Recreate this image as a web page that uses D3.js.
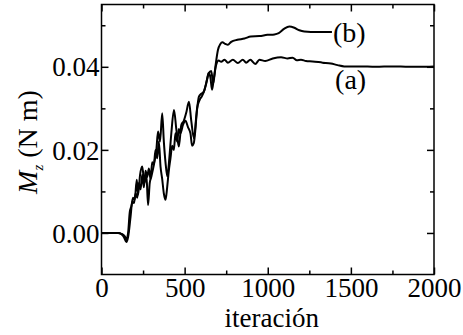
<!DOCTYPE html>
<html><head><meta charset="utf-8">
<script src="https://cdn.jsdelivr.net/npm/d3@7"></script>
<style>body{margin:0;background:#fff}svg{display:block}</style>
</head><body>
<script>
const xMajor = [0, 500, 1000, 1500, 2000];
const xMinor = [250, 750, 1250, 1750];
const yMajor = [0.00, 0.02, 0.04];
const yMinor = [0.01, 0.03, 0.05];
const xLabel = "iteración";
const seriesALabel = "(a)";
const seriesBLabel = "(b)";
const seriesA = [[0,0],[100,0],[120,-0.0003],[135,-0.001],[150,-0.0022],[160,-0.001],[175,0.004],[185,0.0075],[195,0.0072],[205,0.0095],[215,0.0085],[225,0.012],[235,0.0105],[245,0.014],[255,0.011],[265,0.015],[275,0.0135],[285,0.0155],[295,0.013],[305,0.017],[315,0.0165],[325,0.02],[335,0.018],[345,0.022],[355,0.016],[365,0.013],[375,0.0095],[385,0.008],[395,0.011],[405,0.015],[415,0.018],[425,0.021],[435,0.02],[445,0.024],[455,0.022],[465,0.025],[475,0.024],[490,0.026],[505,0.027],[520,0.0255],[535,0.024],[545,0.021],[555,0.0216],[565,0.025],[575,0.03],[590,0.032],[605,0.033],[620,0.0345],[635,0.037],[645,0.0385],[655,0.0375],[665,0.0345],[675,0.037],[690,0.0405],[705,0.0415],[720,0.0412],[740,0.0417],[760,0.041],[790,0.0417],[820,0.0409],[850,0.0417],[870,0.041],[895,0.0417],[925,0.0407],[950,0.0417],[985,0.0414],[1030,0.042],[1080,0.0423],[1120,0.042],[1150,0.0422],[1175,0.0416],[1200,0.0417],[1230,0.0414],[1270,0.0413],[1330,0.041],[1380,0.0408],[1420,0.0404],[1460,0.0401],[1550,0.0401],[1650,0.04],[1750,0.0401],[1850,0.04],[1950,0.04],[2000,0.0401]];
const seriesB = [[0,0],[100,0],[120,-0.0002],[140,-0.0008],[150,-0.0015],[160,0],[170,0.005],[180,0.0065],[190,0.0085],[200,0.008],[212,0.0128],[220,0.0092],[232,0.014],[245,0.016],[258,0.012],[270,0.014],[280,0.0067],[290,0.012],[300,0.0136],[315,0.0164],[330,0.02],[340,0.0244],[352,0.022],[365,0.0288],[375,0.022],[385,0.017],[396,0.0136],[408,0.018],[420,0.024],[436,0.0296],[450,0.025],[465,0.0208],[480,0.026],[495,0.027],[510,0.029],[526,0.0316],[540,0.027],[556,0.0228],[570,0.028],[586,0.0328],[600,0.0335],[615,0.034],[630,0.036],[645,0.0385],[660,0.039],[672,0.036],[685,0.04],[700,0.044],[715,0.0455],[727,0.0459],[745,0.0455],[760,0.0453],[780,0.046],[817,0.0465],[860,0.0468],[898,0.0473],[950,0.0474],[998,0.0477],[1040,0.0478],[1066,0.0481],[1100,0.0492],[1130,0.0497],[1160,0.0494],[1190,0.0488],[1220,0.0485],[1260,0.0484],[1320,0.0484],[1386,0.0484]];

const W = 463, H = 335;
const L = 101.5, R = 434, T = 4.5, B = 274.5;
const FONT = "'Liberation Serif', 'Times New Roman', Times, serif";
const FS = 27, FS2 = 28;
const svg = d3.select("body").append("svg").attr("width", W).attr("height", H)
  .style("font-family", FONT);
const x = d3.scaleLinear().domain([0, 2000]).range([L, R]);
const y = d3.scaleLinear().domain([-0.01, 0.055]).range([B, T]);

function axis(gen, tr, vals, size, labels) {
  const g = svg.append("g").attr("transform", tr)
    .call(gen.tickValues(vals).tickSizeInner(size).tickSizeOuter(0).tickFormat(labels ? labels : ""));
  g.attr("font-family", null).attr("font-size", null);
  g.select(".domain").remove();
  g.selectAll(".tick line").attr("stroke", "#000").attr("stroke-width", 1.5);
  g.selectAll(".tick text").style("font-family", FONT).style("font-size", FS + "px").attr("fill", "#000");
  return g;
}
// bottom
const gb = axis(d3.axisTop(x), `translate(0,${B})`, xMajor, 7, d3.format("d"));
gb.selectAll(".tick text").attr("y", 22).attr("dy", 0);
axis(d3.axisTop(x), `translate(0,${B})`, xMinor, 4, null);
// top
axis(d3.axisBottom(x), `translate(0,${T})`, xMajor, 7, null);
axis(d3.axisBottom(x), `translate(0,${T})`, xMinor, 4, null);
// left
const gl = axis(d3.axisRight(y), `translate(${L},0)`, yMajor, 7, d3.format(".2f"));
gl.selectAll(".tick text").attr("x", -2).attr("text-anchor", "end").attr("dy", "0.34em");
axis(d3.axisRight(y), `translate(${L},0)`, yMinor, 4, null);
// right
axis(d3.axisLeft(y), `translate(${R},0)`, yMajor, 7, null);
axis(d3.axisLeft(y), `translate(${R},0)`, yMinor, 4, null);

svg.append("rect").attr("x", L).attr("y", T).attr("width", R - L).attr("height", B - T)
  .attr("fill", "none").attr("stroke", "#000").attr("stroke-width", 1.5);

const line = d3.line().x(d => x(d[0])).y(d => y(d[1])).curve(d3.curveMonotoneX);
[seriesA, seriesB].forEach(s => {
  svg.append("path").datum(s).attr("d", line).attr("fill", "none")
    .attr("stroke", "#000").attr("stroke-width", 2).attr("stroke-linejoin", "round");
});

const lastB = seriesB[seriesB.length - 1];
svg.append("text").attr("x", x(lastB[0]) + 1).attr("y", y(lastB[1]) + 10)
  .style("font-size", FS2 + "px").style("font-family", FONT).text(seriesBLabel);
svg.append("text").attr("x", x(1405)).attr("y", y(0.0403) + 23)
  .style("font-size", FS2 + "px").style("font-family", FONT).text(seriesALabel);

svg.append("text").attr("x", (L + R) / 2 + 4).attr("y", 327).attr("text-anchor", "middle")
  .style("font-size", "27px").style("font-family", FONT).text(xLabel);

const yt = svg.append("text").attr("transform", "translate(37,142) rotate(-90)")
  .attr("text-anchor", "middle").style("font-size", FS2 + "px").style("font-family", FONT);
yt.append("tspan").attr("font-style", "italic").text("M");
yt.append("tspan").attr("font-style", "italic").attr("dy", 6).style("font-size", "15px").text("z");
yt.append("tspan").attr("dy", -6).text(" (N m)");
</script>
</body></html>
